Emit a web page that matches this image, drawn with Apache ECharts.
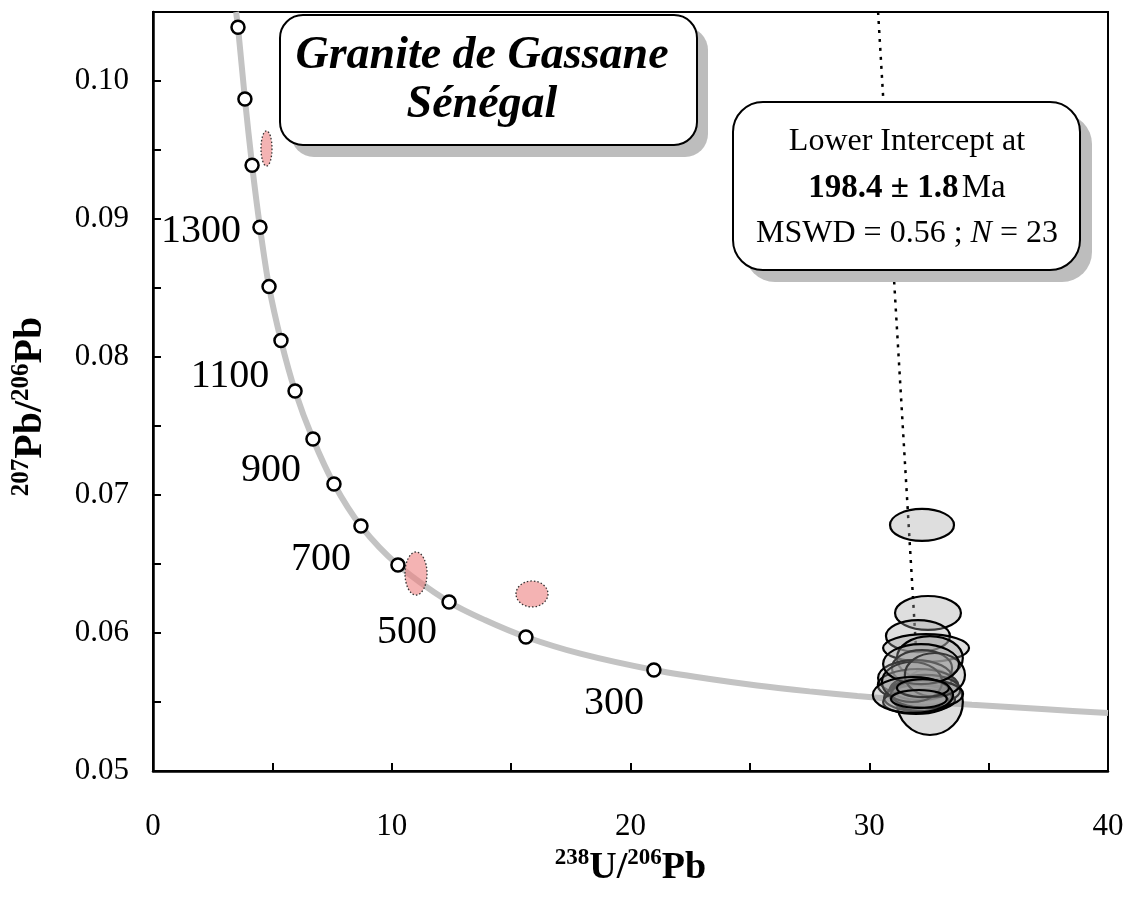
<!DOCTYPE html>
<html><head><meta charset="utf-8">
<script src="https://cdn.jsdelivr.net/npm/echarts@6/dist/echarts.min.js"></script>
<style>html,body{margin:0;padding:0;background:#fff}#c{width:1128px;height:901px}</style>
</head><body><div id="c"></div>
<script>
// Concordia reference points (ages in Ma)
const concordiaAges = [1600,1500,1400,1300,1200,1100,1000,900,800,700,600,500,400,300];
const concordiaX = [3.56,3.85,4.15,4.48,4.86,5.36,5.95,6.70,7.58,8.71,10.26,12.40,15.62,20.98];
const concordiaY = [0.1039,0.0987,0.0939,0.0894,0.0851,0.0812,0.07754,0.07406,0.0708,0.06775,0.06493,0.06225,0.05971,0.05732];
const labelledAges = [1300,1100,900,700,500,300];
// Concordia curve trace
const curveX = [3.48,3.56,3.85,4.15,4.48,4.86,5.36,5.95,6.70,7.58,8.71,10.26,12.40,13.9,15.62,17.9,20.98,23.4,25.3,27.5,29.5,31.7,34.3,37.4,40];
const curveY = [0.1050,0.1039,0.0987,0.0939,0.0894,0.0851,0.0812,0.07754,0.07406,0.0708,0.06775,0.06493,0.06225,0.06094,0.05971,0.0585,0.05732,0.05665,0.0562,0.05577,0.05543,0.05511,0.05480,0.05447,0.0542];
// Discordia
const discordiaX = [30.37,32.08];
const discordiaY = [0.1050,0.05536];
// Analyses used (grey ellipses): centre x, centre y, half-width x, half-height y
const greyCx = [32.54,32.21,32.46,32.04,32.38,32.54,32.21,31.92,32.04,32.34,32.13,32.21,32.04,32.29,32.13,31.96,32.42,31.79,32.75,32.17,31.83,32.25,32.08];
const greyCy = [0.05500,0.06783,0.06145,0.05978,0.05891,0.05819,0.05746,0.05674,0.05623,0.05587,0.05565,0.05543,0.05529,0.05514,0.05587,0.05500,0.05558,0.05645,0.05696,0.05775,0.05551,0.05601,0.05522];
const greyRx = [1.38,1.34,1.38,1.34,1.80,1.38,1.26,1.55,1.68,1.47,1.34,1.26,1.42,1.30,1.17,1.38,1.51,1.26,1.26,1.59,1.68,1.09,1.17];
const greyRy = [0.00239,0.00116,0.00123,0.00116,0.00101,0.00159,0.00130,0.00130,0.00116,0.00109,0.00101,0.00087,0.00094,0.00080,0.00072,0.00087,0.00101,0.00145,0.00159,0.00145,0.00130,0.00065,0.00065];
// Rejected analyses (pink ellipses)
const pinkCx = [4.754,11.016,15.874];
const pinkCy = [0.09511,0.06431,0.06283];
const pinkRx = [0.23,0.461,0.67];
const pinkRy = [0.00127,0.00156,0.00094];

const labelOffsets = {1300:[-59,4],1100:[-51,36],900:[-42,32],700:[-40,33],500:[-42,31],300:[-40,34]};
const serif = 'Liberation Serif, Times New Roman, serif';

function ellipseItem(fill, stroke, lw, dash) {
  return function (params, api) {
    const c = api.coord([api.value(0), api.value(1)]);
    const s = api.size([api.value(2), api.value(3)]);
    return {
      type: 'ellipse',
      shape: { cx: c[0], cy: c[1], rx: s[0], ry: s[1] },
      style: { fill: fill, stroke: stroke, lineWidth: lw, lineDash: dash }
    };
  };
}

const xTitleRich = {
  s: { fontFamily: serif, fontWeight: 'bold', fontSize: 23, verticalAlign: 'top', lineHeight: 42 },
  b: { fontFamily: serif, fontWeight: 'bold', fontSize: 38, lineHeight: 42 }
};
const yTitleRich = {
  s: { fontFamily: serif, fontWeight: 'bold', fontSize: 25, verticalAlign: 'top', lineHeight: 44 },
  b: { fontFamily: serif, fontWeight: 'bold', fontSize: 40, lineHeight: 44 }
};

const chart = echarts.init(document.getElementById('c'), null, { renderer: 'canvas' });
const option = {
  animation: false,
  backgroundColor: '#fff',
  grid: { left: 153, right: 20, top: 12, bottom: 130, show: true, borderColor: '#000', borderWidth: 2, backgroundColor: 'transparent' },
  xAxis: {
    type: 'value', min: 0, max: 40, interval: 5,
    axisLine: { show: true, lineStyle: { color: '#000', width: 2.5 } },
    axisTick: { show: true, inside: true, length: 8, lineStyle: { color: '#000', width: 2 } },
    splitLine: { show: false },
    axisLabel: { margin: 40, color: '#000', fontFamily: serif, fontSize: 31,
      formatter: v => (Math.round(v) % 10 === 0 ? String(Math.round(v)) : '') },
    name: '{s|238}{b|U/}{s|206}{b|Pb}', nameLocation: 'middle', nameGap: 72,
    nameTextStyle: { fontFamily: serif, rich: xTitleRich }
  },
  yAxis: {
    type: 'value', min: 0.05, max: 0.105, interval: 0.005,
    axisLine: { show: true, lineStyle: { color: '#000', width: 2.5 } },
    axisTick: { show: true, inside: true, length: 8, lineStyle: { color: '#000', width: 2 } },
    splitLine: { show: false },
    axisLabel: { margin: 24, color: '#000', fontFamily: serif, fontSize: 31,
      formatter: v => (Math.round(v * 1000) % 10 === 0 ? v.toFixed(2) : '') },
    name: '{s|207}{b|Pb/}{s|206}{b|Pb}', nameLocation: 'middle', nameGap: 100, nameRotate: 90,
    nameTextStyle: { fontFamily: serif, rich: yTitleRich, padding: [0, 30, 0, 0] }
  },
  series: [
    { name: 'concordia', type: 'line', data: curveX.map((x, i) => [x, curveY[i]]),
      smooth: 0.3, symbol: 'none', z: 1,
      lineStyle: { color: '#c3c3c3', width: 6 } },
    { name: 'discordia', type: 'line', data: discordiaX.map((x, i) => [x, discordiaY[i]]),
      symbol: 'none', z: 2, lineStyle: { color: '#000', width: 2.5, type: [3, 6] } },
    { name: 'rejected', type: 'custom', z: 3,
      data: pinkCx.map((x, i) => [x, pinkCy[i], pinkRx[i], pinkRy[i]]),
      renderItem: ellipseItem('rgba(236,128,128,0.6)', '#333', 1.3, [1.5, 2]) },
    { name: 'analyses', type: 'custom', z: 4,
      data: greyCx.map((x, i) => [x, greyCy[i], greyRx[i], greyRy[i]]),
      renderItem: ellipseItem('rgba(160,160,160,0.35)', '#000', 2.2, null) },
    { name: 'ages', type: 'scatter', z: 5, symbol: 'circle', symbolSize: 13,
      itemStyle: { color: '#fff', borderColor: '#000', borderWidth: 2.5, opacity: 1 },
      data: concordiaX.map((x, i) => {
        const age = concordiaAges[i];
        const item = { value: [x, concordiaY[i]] };
        if (labelledAges.indexOf(age) >= 0) {
          item.label = { show: true, formatter: String(age), position: 'inside', offset: labelOffsets[age],
            color: '#000', fontFamily: serif, fontSize: 40 };
        }
        return item;
      }) }
  ],
  graphic: [
    { type: 'rect', z: 100, shape: { x: 291, y: 27, width: 417, height: 130, r: 23 }, style: { fill: '#bdbdbd' } },
    { type: 'rect', z: 101, shape: { x: 280, y: 15, width: 417, height: 130, r: 23 }, style: { fill: '#fff', stroke: '#000', lineWidth: 2 } },
    { type: 'text', z: 102, x: 482, y: 56, style: { text: 'Granite de Gassane', fill: '#000', font: 'italic bold 46px ' + serif, textAlign: 'center', textVerticalAlign: 'middle' } },
    { type: 'text', z: 102, x: 482, y: 105, style: { text: 'Sénégal', fill: '#000', font: 'italic bold 46px ' + serif, textAlign: 'center', textVerticalAlign: 'middle' } },
    { type: 'rect', z: 100, shape: { x: 745, y: 114, width: 347, height: 168, r: 30 }, style: { fill: '#bdbdbd' } },
    { type: 'rect', z: 101, shape: { x: 733, y: 102, width: 347, height: 168, r: 30 }, style: { fill: '#fff', stroke: '#000', lineWidth: 2 } },
    { type: 'text', z: 102, x: 907, y: 142, style: { text: 'Lower Intercept at', fill: '#000', font: '32px ' + serif, textAlign: 'center', textVerticalAlign: 'middle' } },
    { type: 'text', z: 102, x: 907, y: 188, style: { text: '{b|198.4 ± 1.8} {n|Ma}', textAlign: 'center', textVerticalAlign: 'middle',
        rich: { b: { fontFamily: serif, fontWeight: 'bold', fontSize: 33, fill: '#000' }, n: { fontFamily: serif, fontSize: 33, fill: '#000' } } } },
    { type: 'text', z: 102, x: 907, y: 234, style: { text: '{n|MSWD = 0.56 ; }{i|N}{n| = 23}', textAlign: 'center', textVerticalAlign: 'middle',
        rich: { n: { fontFamily: serif, fontSize: 32, fill: '#000' }, i: { fontFamily: serif, fontStyle: 'italic', fontSize: 32, fill: '#000' } } } }
  ]
};
chart.setOption(option);
</script>
</body></html>
